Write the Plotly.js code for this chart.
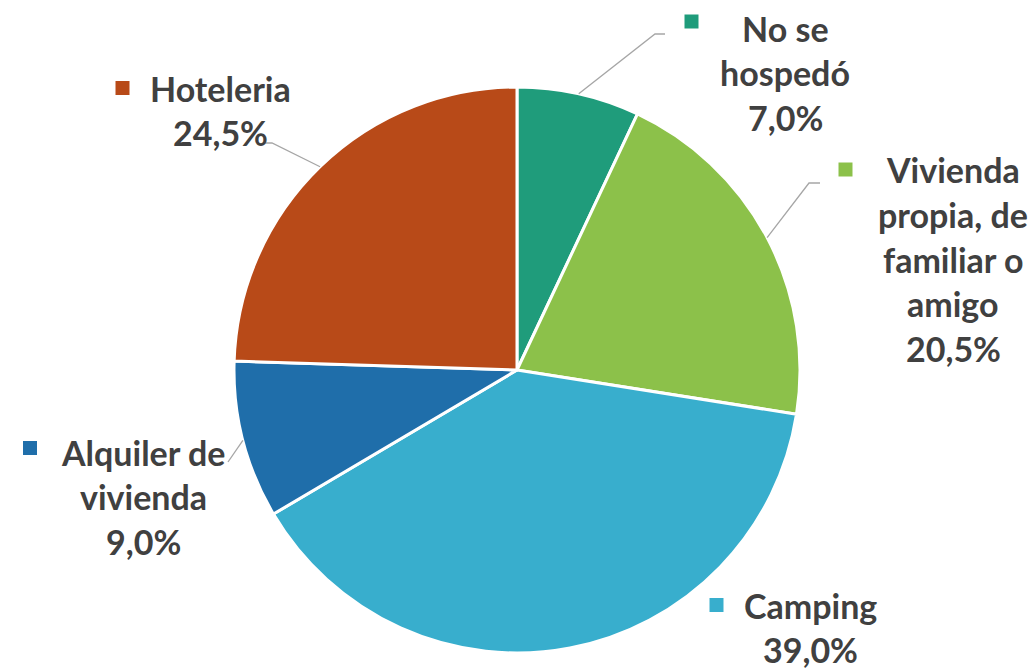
<!DOCTYPE html>
<html>
<head>
<meta charset="utf-8">
<script src="https://cdn.plot.ly/plotly-3.0.1.min.js"></script>
<style>html,body{margin:0;padding:0;background:#fff;}#chart{width:1036px;height:668px;}</style>
</head>
<body>
<div id="chart"></div>
<script>
// ---- data ----
const categories = ["No se hospedó", "Vivienda propia, de familiar o amigo", "Camping", "Alquiler de vivienda", "Hoteleria"];
const values = [7.0, 20.5, 39.0, 9.0, 24.5];
const labelLines = [["No se", "hospedó"], ["Vivienda", "propia, de", "familiar o", "amigo"], ["Camping"], ["Alquiler de", "vivienda"], ["Hoteleria"]];
const colors = ["#1F9C7B", "#8CC14A", "#38AECD", "#1F6EAA", "#B84A18"];

// ---- layout helpers (pixel positions of labels) ----
const W = 1036, H = 668;
const cx = 517, cy = 370, R = 283;
const px = x => x / W;
const py = y => 1 - y / H;
const lineGap = 44.5;
const labelPos = [
  {cx: 785, y0: 28, sq: [691.5, 21.5], elbow: [655, 34], end: [665, 34]},
  {cx: 953, y0: 170, sq: [845.5, 169.5], elbow: [809, 183], end: [820, 183]},
  {cx: 810, y0: 605, sq: [716.5, 605], elbow: null, end: null},
  {cx: 143, y0: 452, sq: [30, 448], elbow: [228, 462], end: [228, 462]},
  {cx: 220, y0: 88, sq: [122.5, 88], elbow: [272, 143], end: [265, 143]}
];

const fmt = v => v.toFixed(1).replace('.', ',') + '%';
const font = {family: 'Lato, "Open Sans", sans-serif', size: 34, color: '#404040', weight: 700};

const annotations = [];
const shapes = [];
const total = values.reduce((a, b) => a + b, 0);
let cum = 0;
values.forEach((v, i) => {
  const mid = (cum + v / 2) / total * 2 * Math.PI;
  cum += v;
  const lp = labelPos[i];
  const lines = labelLines[i].concat([fmt(v)]);
  lines.forEach((t, k) => {
    annotations.push({
      xref: 'paper', yref: 'paper', x: px(lp.cx), y: py(lp.y0 + k * lineGap),
      xanchor: 'center', yanchor: 'middle', text: '<b>' + t + '</b>', showarrow: false, font: font
    });
  });
  shapes.push({
    type: 'rect', xref: 'paper', yref: 'paper',
    x0: px(lp.sq[0] - 7), x1: px(lp.sq[0] + 7), y0: py(lp.sq[1] + 7), y1: py(lp.sq[1] - 7),
    fillcolor: colors[i], line: {width: 0}
  });
  if (lp.elbow) {
    const sx = cx + R * Math.sin(mid), sy = cy - R * Math.cos(mid);
    shapes.push({type: 'path', xref: 'paper', yref: 'paper',
      path: 'M ' + px(sx) + ' ' + py(sy) + ' L ' + px(lp.elbow[0]) + ' ' + py(lp.elbow[1]) + ' L ' + px(lp.end[0]) + ' ' + py(lp.end[1]),
      line: {color: '#A6A6A6', width: 1.3}});
  }
});

const trace = {
  type: 'pie',
  labels: categories,
  values: values,
  marker: {colors: colors, line: {color: '#FFFFFF', width: 3}},
  sort: false,
  direction: 'clockwise',
  rotation: 0,
  textinfo: 'none',
  hoverinfo: 'label+percent',
  showlegend: false,
  domain: {x: [px(cx - R), px(cx + R)], y: [py(cy + R), py(cy - R)]}
};

const layout = {
  width: W, height: H,
  margin: {l: 0, r: 0, t: 0, b: 0},
  paper_bgcolor: '#FFFFFF',
  showlegend: false,
  annotations: annotations,
  shapes: shapes
};

Plotly.newPlot('chart', [trace], layout, {displayModeBar: false, staticPlot: true});
</script>
</body>
</html>
